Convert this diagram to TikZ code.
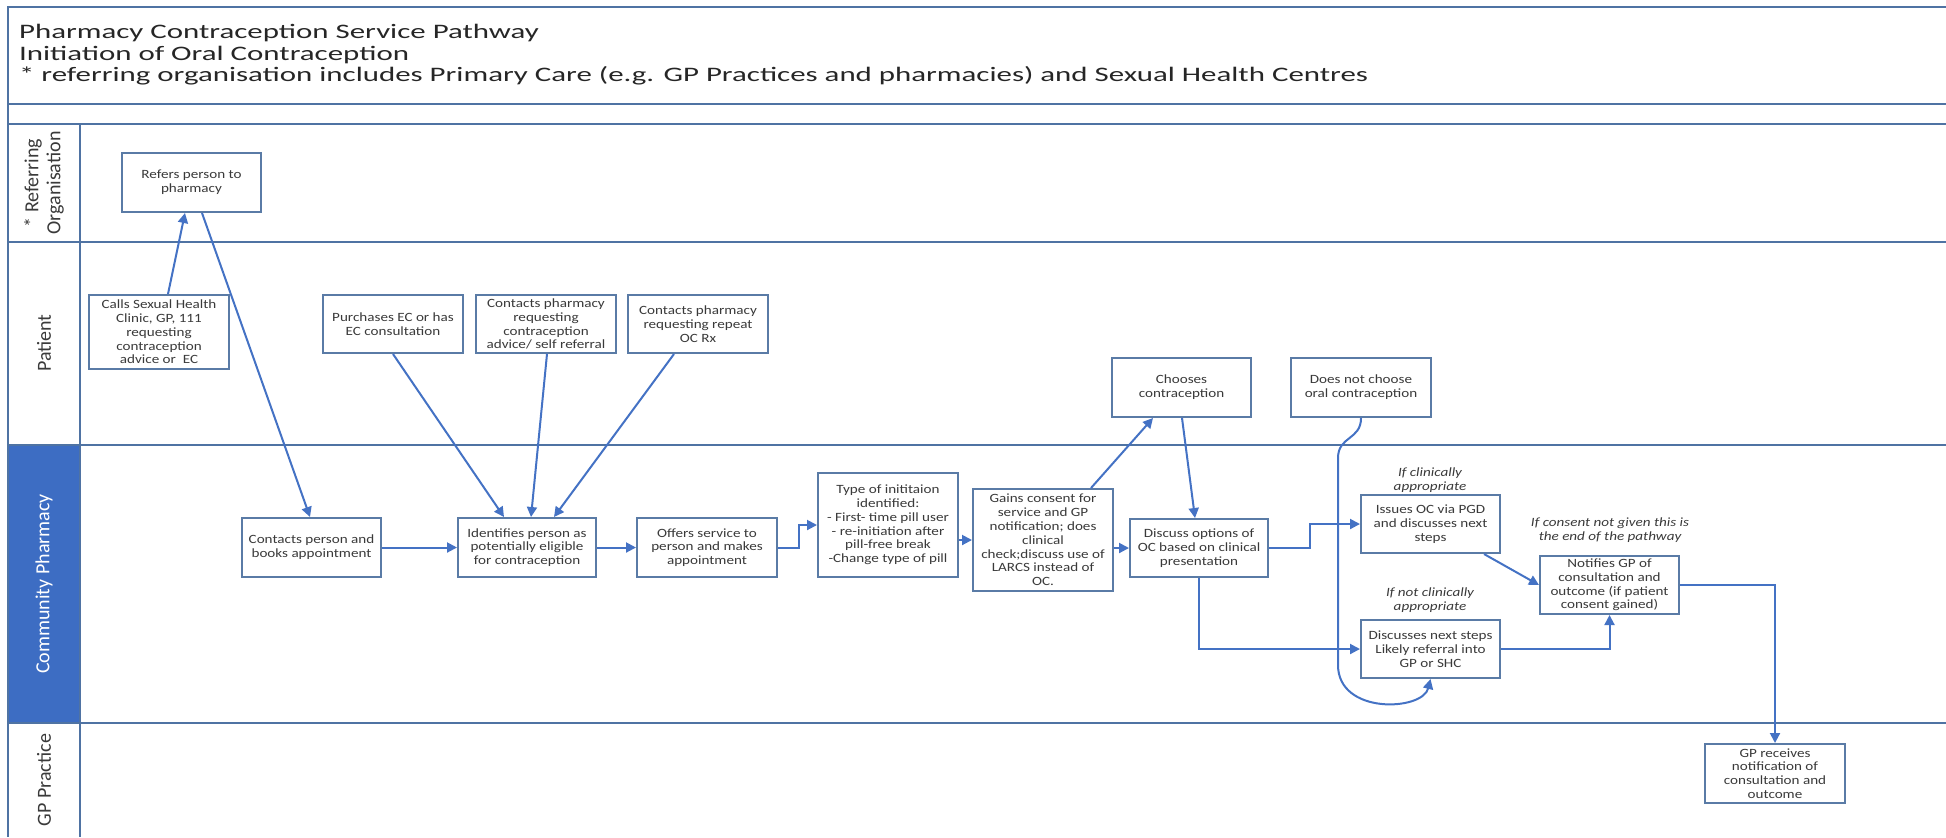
\documentclass[tikz,border=0pt]{standalone}
\usepackage{fontspec}
\setmainfont[FakeStretch=1.2]{Carlito}
\newfontfamily\titlefont[FakeStretch=1.5]{Carlito}
\newfontfamily\lanefont{Carlito}
\usetikzlibrary{arrows.meta}

\definecolor{boxline}{HTML}{5A7BA6}
\definecolor{laneline}{HTML}{4F73A3}
\definecolor{flow}{HTML}{4472C4}
\definecolor{lanefill}{HTML}{3D6DC3}
\definecolor{txt}{HTML}{3A3A3A}
\definecolor{titletxt}{HTML}{262626}

\tikzset{
	stepbox/.style={shape=rectangle, draw=boxline, line width=1pt, fill=white, align=center, inner sep=1pt, text=txt, font=\fontsize{6.3}{6.9}\selectfont},
	flowline/.style={draw=flow, line width=1pt, -{Triangle[length=5pt, width=5pt]}},
	note/.style={align=center, text=txt, font=\fontsize{6.3}{6.9}\selectfont\itshape},
	lanelabel/.style={rotate=90, align=center, text=txt, font=\lanefont\fontsize{10}{11}\selectfont},
	titletext/.style={anchor=west, text=titletxt, font=\titlefont\fontsize{10.3}{11}\selectfont}
}

\begin{document}
\begin{tikzpicture}[x=0.5pt, y=-0.5pt]
			\useasboundingbox (0, 0) rectangle (1946, 837);
			\fill[lanefill] (8, 445) rectangle (80, 723);
			\draw[laneline, line width=1pt] (1946, 7) -- (8, 7) -- (8, 837);
			\draw[laneline, line width=1pt] (8, 104) -- (1946, 104);
			\draw[laneline, line width=1pt] (8, 124) -- (1946, 124);
			\draw[laneline, line width=1pt] (8, 242) -- (1946, 242);
			\draw[laneline, line width=1pt] (8, 445) -- (1946, 445);
			\draw[laneline, line width=1pt] (8, 723) -- (1946, 723);
			\draw[laneline, line width=1pt] (80, 124) -- (80, 837);
			\node[titletext](T1) at (12, 33){Pharmacy Contraception Service Pathway};
			\node[titletext](T2) at (12, 55){Initiation of Oral Contraception};
			\node[titletext](T3) at (12, 76){* referring organisation includes Primary Care (e.g. GP Practices and pharmacies) and Sexual Health Centres};
			\node[lanelabel](L1) at (44, 183){* Referring\\Organisation};
			\node[lanelabel](L2) at (44, 343){Patient};
			\node[lanelabel, text=white](L3) at (44, 584){Community Pharmacy};
			\node[lanelabel](L4) at (44, 780){GP Practice};
			\node[stepbox, minimum width=69.5pt, minimum height=29.5pt](N1) at (191.5, 182.5){Refers person to\\pharmacy};
			\node[stepbox, minimum width=70pt, minimum height=37pt](N2) at (159, 332){Calls Sexual Health\\Clinic, GP, 111\\requesting\\contraception\\advice or\ \ EC};
			\node[stepbox, minimum width=70pt, minimum height=29pt](N3) at (393, 324){Purchases EC or has\\EC consultation};
			\node[stepbox, minimum width=70pt, minimum height=29pt](N4) at (546, 324){Contacts pharmacy\\requesting\\contraception\\advice/ self referral};
			\node[stepbox, minimum width=70pt, minimum height=29pt](N5) at (698, 324){Contacts pharmacy\\requesting repeat\\OC Rx};
			\node[stepbox, minimum width=69.5pt, minimum height=29.5pt](N6) at (311.5, 547.5){Contacts person and\\books appointment};
			\node[stepbox, minimum width=69pt, minimum height=29.5pt](N7) at (527, 547.5){Identifies person as\\potentially eligible\\for contraception};
			\node[stepbox, minimum width=70pt, minimum height=29.5pt](N8) at (707, 547.5){Offers service to\\person and makes\\appointment};
			\node[stepbox, minimum width=70pt, minimum height=52pt](N9) at (888, 525){Type of inititaion\\identified:\\- First- time pill user\\- re-initiation after\\pill-free break\\-Change type of pill};
			\node[stepbox, minimum width=70pt, minimum height=51pt](N10) at (1043, 540){Gains consent for\\service and GP\\notification; does\\clinical\\check;discuss use of\\LARCS instead of\\OC.};
			\node[stepbox, minimum width=69pt, minimum height=29pt](N11) at (1199, 548){Discuss options of\\OC based on clinical\\presentation};
			\node[stepbox, minimum width=69.5pt, minimum height=29.5pt](N12) at (1181.5, 387.5){Chooses\\contraception};
			\node[stepbox, minimum width=70pt, minimum height=29.5pt](N13) at (1361, 387.5){Does not choose\\oral contraception};
			\node[stepbox, minimum width=69.5pt, minimum height=29pt](N14) at (1430.5, 524){Issues OC via PGD\\and discusses next\\steps};
			\node[stepbox, minimum width=69.5pt, minimum height=29pt](N15) at (1430.5, 649){Discusses next steps\\Likely referral into\\GP or SHC};
			\node[stepbox, minimum width=69.5pt, minimum height=29pt](N16) at (1609.5, 585){Notifies GP of\\consultation and\\outcome (if patient\\consent gained)};
			\node[stepbox, minimum width=70pt, minimum height=29.5pt](N17) at (1775, 773.5){GP receives\\notification of\\consultation and\\outcome};
			\node[note](M1) at (1430, 480){If clinically\\appropriate};
			\node[note](M2) at (1430, 600){If not clinically\\appropriate};
			\node[note](M3) at (1610, 530){If consent not given this is\\the end of the pathway};
			\coordinate (C1) at (1338, 458);
			\coordinate (C2) at (1338, 665);
			\draw[flowline] ([xshift=4.5pt]N2.north) -- ([xshift=-3.25pt]N1.south);
			\draw[flowline] ([xshift=5.25pt]N1.south) -- ([xshift=-0.75pt]N6.north);
			\draw[flowline] (N3.south) -- ([xshift=-11.5pt]N7.north);
			\draw[flowline] ([xshift=0.5pt]N4.south) -- ([xshift=2pt]N7.north);
			\draw[flowline] ([xshift=-12pt]N5.south) -- ([xshift=13.5pt]N7.north);
			\draw[flowline] (N6) -- (N7);
			\draw[flowline] (N7) -- (N8);
			\draw[flowline] (N8.east) -- ++(10.5pt, 0) |- (N9.west);
			\draw[flowline] (N9.east |- N10.west) -- (N10.west);
			\draw[flowline] ([xshift=24pt]N10.north) -- ([xshift=-14.25pt]N12.south);
			\draw[flowline] ([xshift=0.25pt]N12.south) -- ([xshift=-2pt]N11.north);
			\draw[flowline] (N10.east |- N11.west) -- (N11.west);
			\draw[flowline] (N11.east) -- ++(20.5pt, 0) |- (N14.west);
			\draw[flowline] (N11.south) |- (N15.west);
			\draw[flowline] (N13.south) .. controls +(0, 22) and +(0, -22) .. (C1) -- (C2) .. controls +(0, 50) and +(-8, 32) .. (N15.south);
			\draw[flowline] ([xshift=-8.5pt]N14.south east) -- (N16.west);
			\draw[flowline] (N15.east) -| (N16.south);
			\draw[flowline] (N16.east) -| (N17.north);
		\end{tikzpicture}
\end{document}
